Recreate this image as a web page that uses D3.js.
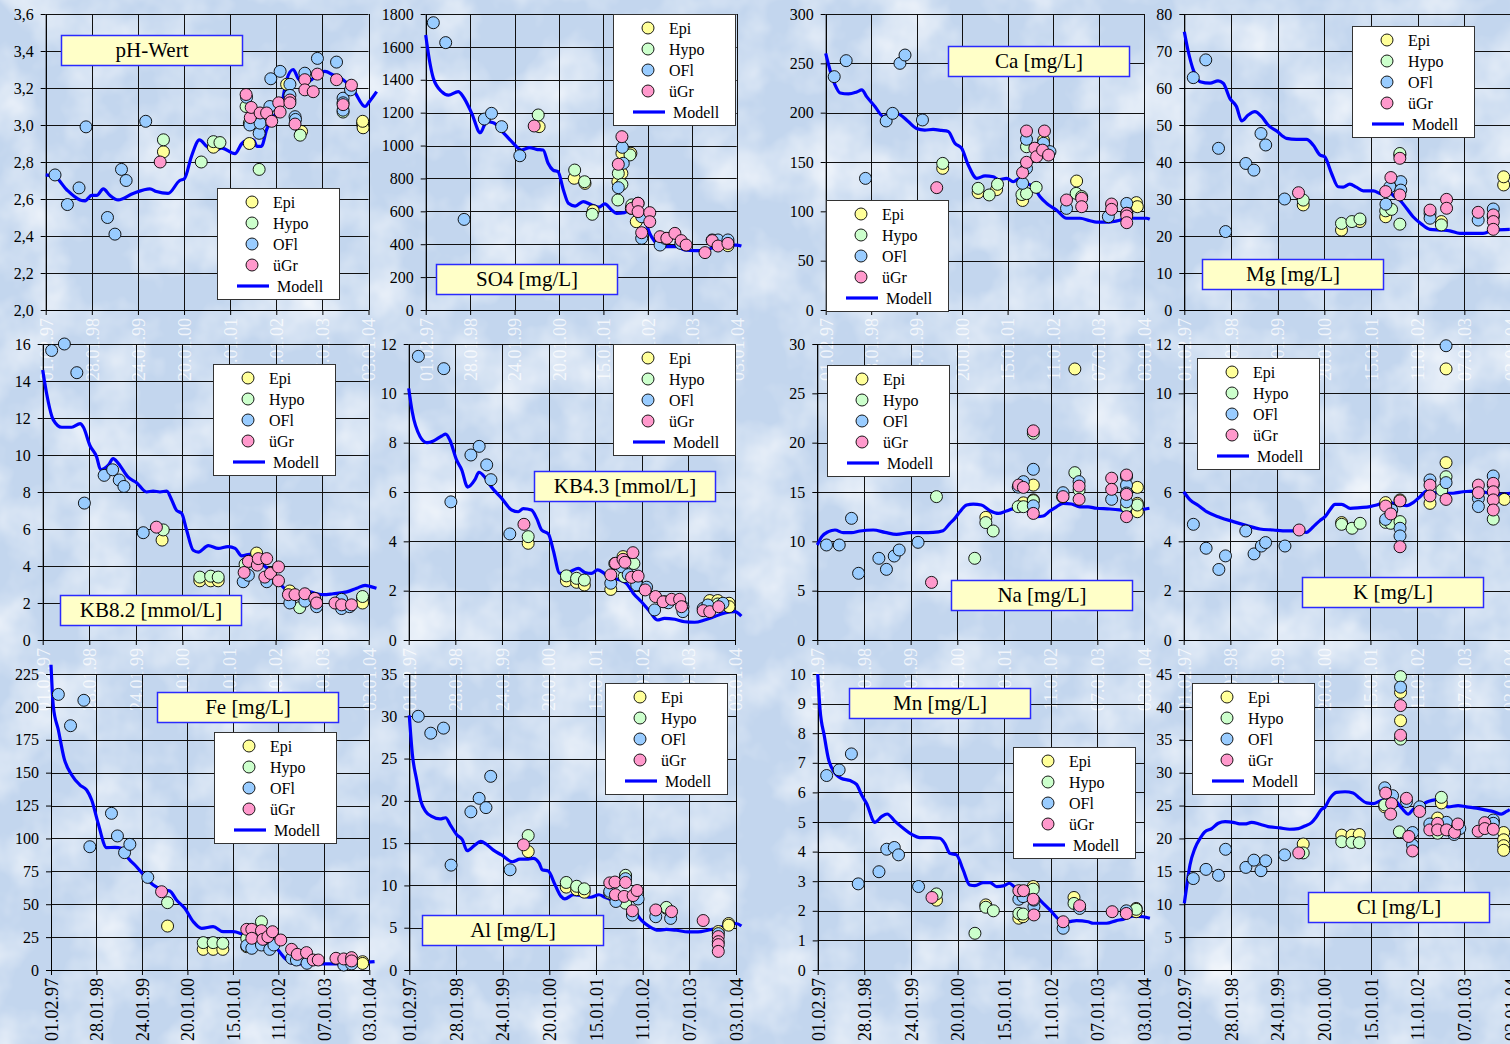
<!DOCTYPE html>
<html><head><meta charset="utf-8">
<script src="https://cdn.jsdelivr.net/npm/d3@7"></script>
<style>
html,body{margin:0;padding:0;background:#c5d8ef;overflow:hidden}
svg{display:block}
text{font-family:"Liberation Serif","Times New Roman",serif}
</style></head><body>
<svg id="chart" width="1510" height="1044"></svg>
<script>
// ---------- DATA (x = decimal year, y = value) ----------
const seriesNames = ["Epi","Hypo","OFl","üGr"];
const modelName = "Modell";
const xTickStart = "1997-02-01";   // 01.02.97, ticks every 361 days
const xTickCount = 8;
const xTickStepDays = 361;

const phModel = [[1997.085,2.73],[1997.285,2.72],[1997.535,2.65],[1997.82,2.595],[1997.93,2.59],[1998.07,2.62],[1998.18,2.62],[1998.32,2.655],[1998.46,2.62],[1998.64,2.595],[1998.96,2.63],[1999.32,2.655],[1999.46,2.64],[1999.71,2.63],[1999.96,2.70],[2000.06,2.71],[2000.21,2.83],[2000.38,2.92],[2000.535,2.885],[2000.68,2.86],[2000.86,2.875],[2001.14,2.845],[2001.29,2.90],[2001.43,2.92],[2001.54,2.92],[2001.61,2.885],[2001.71,2.885],[2001.82,2.975],[2001.96,3.045],[2002.11,3.08],[2002.25,3.245],[2002.39,3.30],[2002.5,3.25],[2002.57,3.235],[2002.75,3.24],[2002.89,3.27],[2003.07,3.29],[2003.25,3.27],[2003.46,3.245],[2003.68,3.19],[2003.93,3.10],[2004.02,3.125],[2004.18,3.18]];
const phEpi = [[1999.61,2.855],[2000.68,2.88],[2001.45,2.90],[2002.25,3.22],[2002.57,2.965],[2003.88,3.005],[2003.89,2.985],[2003.88,3.02]];
const phHypo = [[1999.61,2.92],[2000.42,2.80],[2000.68,2.91],[2000.82,2.905],[2001.38,3.10],[2001.45,3.01],[2001.66,2.76],[2002.54,2.945],[2003.46,3.07]];
const phOFl = [[1997.285,2.73],[1997.55,2.57],[1997.80,2.66],[1997.95,2.99],[1998.41,2.50],[1998.57,2.41],[1998.71,2.76],[1998.81,2.70],[1999.23,3.02],[2001.39,3.15],[2001.46,3.0],[2001.66,2.955],[2001.68,3.01],[2001.89,3.10],[2001.91,3.25],[2002.11,3.29],[2002.32,3.22],[2002.32,3.16],[2002.43,3.045],[2002.44,3.03],[2002.64,3.28],[2002.91,3.36],[2003.32,3.34],[2003.46,3.145],[2003.46,3.12],[2003.46,3.08],[2003.62,3.19]];
const phUGr = [[1999.54,2.80],[2001.38,3.165],[2001.47,3.04],[2001.49,3.095],[2001.68,3.065],[2001.82,3.065],[2001.93,3.02],[2002.08,3.12],[2002.11,3.07],[2002.32,3.135],[2002.32,3.12],[2002.43,3.005],[2002.64,3.245],[2002.64,3.19],[2002.82,3.18],[2002.91,3.275],[2003.32,3.245],[2003.46,3.11],[2003.64,3.215]];

const so4Model = [[1997.085,1672],[1997.18,1500],[1997.255,1409],[1997.44,1328],[1997.59,1307],[1997.81,1328],[1997.92,1297],[1998.11,1196],[1998.30,1078],[1998.44,1145],[1998.59,1139],[1998.775,1090],[1999.0,1024],[1999.22,973],[1999.40,987],[1999.55,977],[1999.70,973],[1999.81,892],[1999.92,851],[2000.03,841],[2000.15,730],[2000.26,649],[2000.41,632],[2000.59,659],[2000.78,639],[2000.94,626],[2001.07,645],[2001.22,608],[2001.33,588],[2001.51,592],[2001.74,632],[2001.85,588],[2001.96,547],[2002.07,466],[2002.18,416],[2002.32,385],[2002.48,385],[2002.67,385],[2002.85,365],[2003.07,361],[2003.30,361],[2003.44,375],[2003.59,385],[2003.815,395],[2004.0,395],[2004.11,389]];
const so4Epi = [[1999.61,1115],[2000.39,801],[2000.63,770],[2000.81,604],[2001.36,780],[2001.45,831],[2001.45,953],[2001.65,953],[2001.66,618],[2001.77,537],[2003.81,411],[2003.81,391]];
const so4Hypo = [[1999.59,1186],[2000.40,851],[2000.62,780],[2000.79,582],[2001.36,669],[2001.37,831],[2001.45,764],[2001.63,943],[2001.67,639]];
const so4OFl = [[1997.255,1747],[1997.53,1626],[1997.94,551],[1998.39,1161],[1998.55,1196],[1998.775,1115],[1999.18,938],[2001.37,744],[2001.46,989],[2001.48,892],[2001.81,649],[2001.89,567],[2001.89,436],[2002.30,395],[2002.41,436],[2002.76,405],[2003.46,426],[2003.59,426],[2003.81,426]];
const so4UGr = [[1999.50,1119],[2001.37,886],[2001.45,1054],[2001.67,618],[2001.81,649],[2001.81,598],[2002.07,592],[2002.07,537],[2001.89,470],[2002.30,446],[2002.45,436],[2002.63,466],[2002.77,422],[2002.88,395],[2003.3,349],[2003.46,422],[2003.59,389],[2003.81,405]];

const caModel = [[1997.085,260],[1997.18,243],[1997.29,228],[1997.40,220],[1997.58,219],[1997.76,221],[1997.87,223],[1997.98,216],[1998.16,206],[1998.34,196],[1998.52,200],[1998.70,198],[1998.88,191],[1999.06,184],[1999.24,182.4],[1999.42,183],[1999.605,182],[1999.75,181],[1999.895,169],[2000.04,164],[2000.185,147],[2000.37,133.4],[2000.55,136],[2000.73,135],[2000.84,132],[2001.02,133.4],[2001.16,130],[2001.31,133.4],[2001.45,128.4],[2001.60,125],[2001.74,115],[2001.89,108],[2002.10,101.4],[2002.32,93],[2002.61,93],[2002.83,90.5],[2002.97,89],[2003.19,89],[2003.48,91],[2003.63,93],[2003.84,93],[2004.06,93],[2004.13,92]];
const caEpi = [[1999.63,143.6],[2000.40,119],[2000.80,122],[2001.365,111],[2001.82,172],[2002.54,130.7],[2003.84,108.8],[2003.86,104.7]];
const caHypo = [[1999.63,148.6],[2000.40,123.3],[2000.64,116.6],[2000.82,127.4],[2001.35,117],[2001.45,165.5],[2001.45,118],[2001.66,124.3],[2002.53,118.2],[2002.65,115]];
const caOFl = [[1997.27,236.5],[1997.53,252.7],[1997.95,133.4],[1998.40,191.6],[1998.54,199.3],[1998.70,250],[1998.81,258.4],[1999.19,192.6],[2001.365,128.4],[2001.45,143.6],[2001.45,173],[2001.82,169],[2001.96,160.5],[2002.32,103],[2003.23,94.6],[2003.63,108],[2003.63,98]];
const caUGr = [[1999.50,124],[2001.365,139.2],[2001.45,181.4],[2001.45,149.7],[2001.63,164],[2001.67,155.4],[2001.84,181.4],[2001.80,162],[2001.93,157],[2002.32,111.5],[2002.65,113.2],[2002.65,104.7],[2003.30,107.4],[2003.30,102],[2003.63,98],[2003.63,95.3],[2003.63,88.5]];

const mgModel = [[1997.085,75.2],[1997.17,69.8],[1997.275,64.9],[1997.42,61.7],[1997.63,61.3],[1997.80,61.9],[1997.91,61.3],[1998.05,57.2],[1998.19,55],[1998.30,51.1],[1998.44,52.7],[1998.58,53.6],[1998.72,52.3],[1998.86,50],[1999.04,48.4],[1999.25,46.4],[1999.46,46.1],[1999.675,46.1],[1999.815,44.6],[1999.96,41.9],[2000.06,41.4],[2000.205,36.9],[2000.345,33.3],[2000.45,33.2],[2000.59,34],[2000.73,33.2],[2000.875,32.2],[2001.09,32.2],[2001.26,31.4],[2001.40,32],[2001.545,30.6],[2001.65,29.7],[2001.79,27.5],[2001.93,25.2],[2002.11,23.2],[2002.29,21.8],[2002.50,21.6],[2002.71,21.4],[2002.92,20.7],[2003.20,20.7],[2003.415,20.7],[2003.63,21.6],[2003.98,21.8]];
const mgEpi = [[1999.605,28.4],[2000.415,21.6],[2000.805,23.9],[2001.35,25.2],[2001.65,41.9],[2002.53,23.9],[2003.85,33.8],[2003.85,36]];
const mgHypo = [[1999.605,29.7],[2000.415,23.4],[2000.635,23.9],[2000.805,24.6],[2001.35,26.8],[2001.475,27.2],[2001.65,23.2],[2001.65,42.3],[2002.53,23]];
const mgOFl = [[1997.275,62.8],[1997.54,67.6],[1997.81,43.7],[1997.96,21.2],[1998.39,39.6],[1998.56,37.8],[1998.71,47.7],[1998.81,44.6],[1999.21,30],[2001.355,28.6],[2001.44,33.3],[2001.67,34.7],[2001.67,32.4],[2002.29,26.1],[2002.29,24.8],[2003.31,24.3],[2003.63,27.3],[2003.63,25.2]];
const mgUGr = [[1999.505,31.7],[2001.35,32],[2001.46,35.8],[2001.65,41],[2001.65,31.1],[2002.29,27],[2002.64,29.9],[2002.64,27.5],[2003.31,26.4],[2003.63,25.7],[2003.63,23.9],[2003.63,21.8]];

const kb82Model = [[1997.085,14.6],[1997.17,13.3],[1997.31,11.9],[1997.49,11.5],[1997.70,11.5],[1997.88,11.7],[1997.95,11.5],[1998.09,10.5],[1998.23,9.9],[1998.315,9.2],[1998.48,9.45],[1998.58,9.8],[1998.69,9.55],[1998.90,8.8],[1999.08,8.5],[1999.29,8.0],[1999.43,8.05],[1999.575,8.0],[1999.72,8.05],[1999.82,7.6],[1999.93,7.0],[2000.035,6.85],[2000.14,5.95],[2000.28,4.85],[2000.39,4.75],[2000.60,5.1],[2000.81,4.95],[2001.02,5.05],[2001.17,4.95],[2001.31,4.55],[2001.52,4.65],[2001.77,4.05],[2001.945,3.65],[2002.12,3.05],[2002.26,2.7],[2002.54,2.5],[2002.76,2.6],[2002.90,2.5],[2003.04,2.45],[2003.25,2.5],[2003.54,2.6],[2003.75,2.8],[2003.93,2.95],[2004.03,2.9],[2004.17,2.8]];
const kb82Epi = [[1999.62,5.4],[2000.42,3.2],[2000.65,3.2],[2000.81,3.2],[2001.625,4.7],[2002.33,2.65],[2003.875,2.25],[2003.875,2.0]];
const kb82Hypo = [[1999.645,5.95],[2000.42,3.4],[2000.65,3.45],[2000.81,3.4],[2001.38,4.1],[2001.66,4.3],[2002.54,1.75],[2003.875,2.35]];
const kb82OFl = [[1997.275,15.65],[1997.545,16.0],[1997.81,14.45],[1997.97,7.4],[1998.39,8.9],[1998.57,9.2],[1998.71,8.65],[1998.81,8.3],[1999.22,5.8],[2001.34,3.15],[2001.45,3.5],[2001.84,3.15],[2002.33,2.0],[2002.65,2.1],[2002.90,1.8],[2003.43,1.7],[2003.43,2.2],[2003.60,1.8]];
const kb82UGr = [[1999.50,6.1],[2001.36,3.65],[2001.45,4.25],[2001.64,4.05],[2001.66,4.4],[2001.84,4.4],[2001.8,3.4],[2001.92,3.6],[2002.09,3.95],[2002.09,3.2],[2002.30,2.45],[2002.44,2.45],[2002.65,2.5],[2002.86,2.25],[2002.90,2.0],[2003.29,2.0],[2003.43,1.9],[2003.64,1.9]];

const kb43Model = [[1997.085,10.2],[1997.16,9.25],[1997.325,8.25],[1997.47,8.0],[1997.61,8.07],[1997.785,8.27],[1997.87,8.35],[1997.96,8.1],[1998.10,7.3],[1998.21,6.9],[1998.335,6.2],[1998.49,6.5],[1998.575,6.8],[1998.70,6.6],[1998.84,6.2],[1999.055,5.75],[1999.27,5.27],[1999.41,5.2],[1999.515,5.33],[1999.69,5.27],[1999.80,4.93],[1999.905,4.46],[2000.05,4.3],[2000.15,3.65],[2000.29,2.7],[2000.40,2.7],[2000.54,2.8],[2000.68,2.9],[2000.82,2.74],[2000.96,2.7],[2001.09,2.84],[2001.21,2.73],[2001.35,2.5],[2001.53,2.46],[2001.70,2.3],[2001.845,1.9],[2002.02,1.55],[2002.20,1.15],[2002.36,0.81],[2002.51,0.88],[2002.73,0.84],[2002.94,0.74],[2003.15,0.72],[2003.36,0.81],[2003.575,0.95],[2003.79,1.1],[2004.0,1.15],[2004.14,0.97]];
const kb43Epi = [[1999.62,3.92],[2000.43,2.4],[2000.645,2.34],[2000.81,2.23],[2001.37,2.05],[2001.63,3.38],[2003.47,1.6],[2003.64,1.6],[2003.88,1.49],[2003.88,1.35]];
const kb43Hypo = [[1999.62,4.19],[2000.43,2.6],[2000.645,2.5],[2000.81,2.43],[2001.455,3.1],[2001.655,2.57],[2001.86,3.1],[2002.52,1.55],[2003.64,1.46]];
const kb43OFl = [[1997.29,11.5],[1997.83,11.0],[1997.98,5.6],[1998.405,7.5],[1998.58,7.85],[1998.74,7.1],[1998.83,6.5],[1999.23,4.3],[2001.37,2.3],[2001.60,2.97],[2001.74,2.65],[2001.92,2.23],[2002.13,2.14],[2002.30,1.22],[2002.59,1.51],[2002.90,1.35],[2002.90,1.15],[2003.33,1.28],[2003.43,1.42],[2003.75,1.49]];
const kb43UGr = [[1999.53,4.69],[2001.37,2.64],[2001.47,3.11],[2001.63,3.27],[2001.67,3.15],[2001.84,3.54],[2001.81,2.54],[2001.95,2.59],[2002.10,2.03],[2002.32,1.76],[2002.48,1.55],[2002.66,1.65],[2002.83,1.65],[2002.87,1.35],[2003.33,1.19],[2003.47,1.15],[2003.66,1.35]];

const naModel = [[1997.085,9.63],[1997.18,10.47],[1997.32,10.98],[1997.46,11.15],[1997.635,10.88],[1997.81,10.88],[1997.99,11.05],[1998.27,11.15],[1998.52,10.91],[1998.765,10.71],[1999.05,10.88],[1999.33,10.88],[1999.54,10.91],[1999.75,11.08],[1999.89,11.8],[2000.0,12.33],[2000.105,13.0],[2000.25,13.68],[2000.39,13.78],[2000.56,13.68],[2000.74,13.1],[2000.92,12.83],[2001.09,13.07],[2001.235,13.28],[2001.45,13.18],[2001.62,13.0],[2001.73,12.5],[2001.87,12.57],[2002.01,13.07],[2002.15,13.5],[2002.29,13.85],[2002.47,13.78],[2002.645,13.5],[2002.82,13.5],[2003.0,13.35],[2003.28,13.28],[2003.49,13.18],[2003.70,13.0],[2003.92,13.18],[2004.12,13.35]];
const naEpi = [[2000.655,12.43],[2001.45,13.9],[2001.66,15.7],[2001.66,14.2],[2002.54,27.47],[2003.865,15.47],[2003.865,13.85],[2003.865,13.0]];
const naHypo = [[1999.61,14.53],[2000.42,8.28],[2000.655,11.9],[2000.81,11.05],[2001.34,13.51],[2001.45,13.51],[2001.66,20.95],[2001.66,14.12],[2002.28,14.5],[2002.54,16.96],[2002.63,15.2],[2003.635,13.5],[2003.865,13.68]];
const naOFl = [[1997.28,9.63],[1997.55,9.63],[1997.81,12.33],[1997.96,6.76],[1998.39,8.28],[1998.55,7.16],[1998.715,8.51],[1998.82,9.12],[1999.22,9.9],[2001.34,15.5],[2001.45,16.05],[2001.66,17.3],[2001.66,13.6],[2002.29,14.93],[2002.63,16.05],[2003.32,14.26],[2003.635,16.55],[2003.635,15.7],[2003.635,14.9],[2003.635,14.0]];
const naUGr = [[1999.505,5.84],[2001.35,15.7],[2001.45,15.47],[2001.66,21.2],[2001.66,12.83],[2002.29,14.53],[2002.63,15.6],[2002.63,14.26],[2003.32,16.4],[2003.32,15.27],[2003.635,16.72],[2003.635,14.76],[2003.635,12.5]];

const kModel = [[1997.085,6.01],[1997.22,5.68],[1997.395,5.45],[1997.57,5.2],[1997.855,4.97],[1998.136,4.8],[1998.42,4.64],[1998.70,4.5],[1998.98,4.46],[1999.265,4.42],[1999.51,4.42],[1999.69,4.36],[1999.76,4.46],[1999.865,4.66],[1999.97,4.84],[2000.08,5.0],[2000.18,5.27],[2000.29,5.5],[2000.43,5.5],[2000.61,5.34],[2000.82,5.37],[2001.03,5.41],[2001.17,5.47],[2001.38,5.61],[2001.52,5.54],[2001.81,5.45],[2001.95,5.58],[2002.09,5.81],[2002.23,6.04],[2002.37,5.98],[2002.58,5.95],[2002.79,5.95],[2003.0,6.01],[2003.29,6.04],[2003.57,5.95],[2003.78,5.9],[2003.995,5.95]];
const kEpi = [[2000.43,4.76],[2001.36,5.57],[2001.665,5.68],[2002.30,5.54],[2002.64,10.99],[2002.64,7.19],[2003.875,5.7]];
const kHypo = [[2000.43,4.69],[2000.65,4.53],[2000.82,4.73],[2001.36,4.77],[2001.47,4.73],[2001.665,4.8],[2002.55,6.08],[2002.64,6.62],[2003.64,4.9]];
const kOFl = [[1997.29,4.69],[1997.56,3.72],[1997.83,2.86],[1997.97,3.41],[1998.40,4.42],[1998.575,3.49],[1998.73,3.81],[1998.82,3.95],[1999.23,3.81],[2001.36,4.89],[2001.49,5.27],[2001.665,4.53],[2001.665,4.22],[2002.30,6.49],[2002.64,11.93],[2002.64,6.38],[2003.325,5.74],[2003.325,5.41],[2003.64,6.65],[2003.64,6.28]];
const kUGr = [[1999.53,4.46],[2001.36,5.43],[2001.47,5.11],[2001.665,5.64],[2001.665,3.78],[2002.30,6.28],[2002.30,5.84],[2002.64,5.7],[2003.325,6.28],[2003.325,5.97],[2003.64,6.35],[2003.64,6.01],[2003.64,5.68],[2003.64,5.27]];

const feModel = [[1997.085,232],[1997.136,200.2],[1997.245,182.4],[1997.37,160.9],[1997.535,148.2],[1997.715,140.6],[1997.86,136.8],[1997.97,129.2],[1998.11,111.5],[1998.295,93],[1998.475,93.2],[1998.62,92.5],[1998.765,85],[1998.945,78.5],[1999.13,71],[1999.31,64.6],[1999.49,61.3],[1999.67,60.1],[1999.815,53.2],[1999.995,46.9],[2000.18,36.7],[2000.36,31.7],[2000.61,33],[2000.83,29.1],[2001.05,29.1],[2001.19,27.9],[2001.34,25.3],[2001.63,24.1],[2001.84,20.3],[2002.02,15.2],[2002.17,8.9],[2002.35,5.1],[2002.64,4.6],[2002.93,4.6],[2003.22,4.6],[2003.58,5.1],[2003.87,5.6],[2004.12,6.3]];
const feEpi = [[1999.62,33.4],[2000.395,15.7],[2000.61,15.7],[2000.82,15.7],[2001.34,17.7],[2003.86,6.3],[2003.86,5]];
const feHypo = [[1999.62,51.2],[2000.395,20.8],[2000.61,20.8],[2000.82,20.3],[2001.34,24.1],[2001.66,36.7]];
const feOFl = [[1997.245,209.5],[1997.51,185.7],[1997.80,205],[1997.93,93.7],[1998.40,119.1],[1998.53,101.9],[1998.685,89.2],[1998.80,95.5],[1999.19,70.4],[2001.34,18.5],[2001.45,16.5],[2001.66,19],[2001.84,15.7],[2001.93,19],[2002.315,8.9],[2002.42,7.6],[2002.65,5.1],[2003.45,3.8],[2003.62,4.6]];
const feUGr = [[1999.49,59.5],[2001.34,30.9],[2001.45,30.9],[2001.45,24.1],[2001.66,29.9],[2001.69,23.3],[2001.80,25.3],[2001.90,29.1],[2002.08,22.8],[2002.315,15.7],[2002.44,11.9],[2002.64,13.2],[2002.785,7.6],[2002.895,7.6],[2003.28,8.9],[2003.45,8.4],[2003.62,9.4],[2003.62,6.9]];

const alModel = [[1997.085,30.1],[1997.15,25.5],[1997.24,22.5],[1997.33,19.95],[1997.43,18.76],[1997.56,18.17],[1997.735,17.86],[1997.855,18.0],[1997.95,17.2],[1998.09,16.0],[1998.21,15.4],[1998.31,14.1],[1998.46,14.7],[1998.60,15.2],[1998.71,14.9],[1998.86,14.2],[1999.04,13.6],[1999.27,12.8],[1999.43,13.1],[1999.605,13.1],[1999.71,13.2],[1999.84,12.6],[1999.90,11.85],[2000.03,11.7],[2000.17,10.1],[2000.30,8.7],[2000.38,8.4],[2000.56,8.9],[2000.73,8.8],[2000.93,8.6],[2001.1,8.9],[2001.23,8.6],[2001.405,8.2],[2001.615,7.9],[2001.86,6.9],[2002.0,5.9],[2002.18,5.1],[2002.36,4.7],[2002.53,4.8],[2002.74,4.7],[2002.99,4.5],[2003.20,4.5],[2003.41,4.7],[2003.63,5.0],[2003.84,5.3],[2004.01,5.5],[2004.12,5.2]];
const alEpi = [[1999.605,14.0],[2000.41,9.8],[2000.63,9.5],[2000.79,9.2],[2001.665,11.1],[2002.53,7.3],[2003.63,4.55],[2003.85,5.5],[2003.85,5.3]];
const alHypo = [[1999.605,15.9],[2000.41,10.35],[2000.63,9.9],[2000.79,9.6],[2001.33,9.1],[2001.665,11.2],[2001.665,7.9],[2002.53,7.4]];
const alOFl = [[1997.275,30.0],[1997.54,28.0],[1997.81,28.6],[1997.97,12.4],[1998.39,18.7],[1998.565,20.3],[1998.71,19.2],[1998.81,22.9],[1999.22,11.85],[2001.33,9.3],[2001.46,8.1],[2001.665,10.8],[2001.81,6.5],[2001.93,8.4],[2002.305,6.3],[2002.62,6.1],[2003.63,4.3]];
const alUGr = [[1999.505,14.8],[2001.33,10.3],[2001.44,10.4],[2001.45,8.9],[2001.665,10.35],[2001.635,8.7],[2001.81,7.0],[2001.825,8.8],[2001.91,9.4],[2002.305,7.1],[2002.64,6.9],[2003.31,5.85],[2003.63,3.95],[2003.63,3.35],[2003.63,3.0],[2003.63,2.2]];

const mnModel = [[1997.085,10.0],[1997.135,8.8],[1997.226,7.9],[1997.31,7.15],[1997.43,6.7],[1997.59,6.47],[1997.77,6.4],[1997.91,6.27],[1998.02,5.9],[1998.12,5.63],[1998.30,4.99],[1998.44,5.18],[1998.56,5.27],[1998.72,5.03],[1998.90,4.79],[1999.08,4.58],[1999.25,4.47],[1999.465,4.47],[1999.675,4.45],[1999.78,4.28],[1999.89,3.94],[2000.03,3.89],[2000.17,3.38],[2000.31,2.87],[2000.42,2.85],[2000.595,2.95],[2000.74,2.95],[2000.88,2.82],[2001.02,2.84],[2001.15,2.93],[2001.27,2.79],[2001.44,2.73],[2001.655,2.59],[2001.83,2.31],[2002.01,2.03],[2002.22,1.69],[2002.40,1.63],[2002.57,1.67],[2002.82,1.63],[2002.93,1.58],[2003.21,1.58],[2003.42,1.67],[2003.56,1.71],[2003.77,1.82],[2003.985,1.8],[2004.13,1.75]];
const mnEpi = [[1999.605,2.36],[2000.65,2.2],[2001.35,1.75],[2001.44,1.8],[2001.655,2.82],[2002.52,2.45],[2003.84,2.08],[2003.84,1.97]];
const mnHypo = [[1999.605,2.57],[2000.42,1.24],[2000.65,2.12],[2000.81,2.0],[2001.35,1.91],[2001.44,1.89],[2001.655,2.73],[2002.52,2.25],[2003.84,2.05]];
const mnOFl = [[1997.275,6.57],[1997.54,6.76],[1997.80,7.3],[1997.945,2.91],[1998.385,3.32],[1998.55,4.08],[1998.71,4.14],[1998.80,3.89],[1999.225,2.82],[2001.35,2.39],[2001.44,2.48],[2001.67,2.14],[2001.67,2.36],[2002.29,1.41],[2002.64,2.08],[2003.63,2.0]];
const mnUGr = [[1999.51,2.45],[2001.35,2.68],[2001.45,2.68],[2001.655,2.39],[2001.67,1.86],[2002.29,1.63],[2002.64,2.17],[2003.33,1.97],[2003.63,1.91]];

const clModel = [[1997.085,10.13],[1997.135,12.67],[1997.205,15.96],[1997.31,18.5],[1997.42,20.0],[1997.52,21.0],[1997.665,21.5],[1997.805,22.3],[1997.95,22.55],[1998.12,22.45],[1998.26,22.2],[1998.37,22.2],[1998.51,22.45],[1998.69,22.15],[1998.86,21.8],[1999.11,21.6],[1999.32,21.4],[1999.50,21.5],[1999.64,21.9],[1999.78,22.4],[1999.885,23.3],[1999.99,24.4],[2000.06,24.7],[2000.17,26.1],[2000.31,27.0],[2000.49,27.1],[2000.66,26.9],[2000.80,26.1],[2000.945,25.4],[2001.09,25.3],[2001.23,25.7],[2001.37,25.95],[2001.51,25.95],[2001.69,24.6],[2001.83,23.7],[2001.93,24.4],[2002.07,24.9],[2002.25,25.6],[2002.39,25.85],[2002.53,25.6],[2002.67,24.8],[2002.885,25.0],[2003.06,24.8],[2003.275,24.6],[2003.485,24.3],[2003.63,24.1],[2003.80,23.7],[2003.91,24.1],[2003.98,24.4]];
const clEpi = [[1999.605,19.15],[2000.42,20.5],[2000.635,20.5],[2000.79,20.6],[2001.33,24.8],[2001.665,42.2],[2001.665,37.9],[2002.45,23.1],[2002.53,25.4],[2003.85,20.9],[2003.85,19.8],[2003.85,18.9],[2003.85,18.2]];
const clHypo = [[1999.605,17.8],[2000.42,19.5],[2000.635,19.4],[2000.79,19.35],[2001.33,25.1],[2001.64,21.0],[2001.665,44.6],[2001.665,35.1],[2002.45,20.8],[2002.53,26.25],[2003.63,22.55]];
const clOFl = [[1997.275,13.9],[1997.545,15.3],[1997.81,14.4],[1997.96,18.35],[1998.39,15.6],[1998.56,16.7],[1998.71,15.1],[1998.81,16.6],[1999.21,17.5],[2001.33,27.7],[2001.495,26.5],[2001.665,43.0],[2001.79,25.6],[2001.92,20.9],[2001.92,19.0],[2002.07,24.8],[2002.285,22.2],[2002.64,22.45],[2002.80,20.6],[2002.92,21.5],[2003.63,22.8],[2003.63,22.3]];
const clUGr = [[1999.51,17.8],[2001.35,26.9],[2001.475,25.3],[2001.455,23.7],[2001.665,40.2],[2001.665,35.7],[2001.79,26.1],[2001.84,20.3],[2001.92,18.1],[2002.07,24.1],[2002.285,21.3],[2002.45,22.3],[2002.45,21.3],[2002.64,21.3],[2002.81,20.9],[2002.88,22.2],[2003.31,21.1],[2003.45,22.4],[2003.45,21.5],[2003.63,21.4]];

// ---------- LAYOUT / STYLE ----------
const W = 1510, H = 1044;
const seriesColors = ["#ffff99","#ccffcc","#99ccff","#ff99cc"];
const modelColor = "#0000ff";

const panels = [
 {title:"pH-Wert", model:phModel, pts:[phEpi,phHypo,phOFl,phUGr], y:[2,3.6,0.2], dec:1, r:[45.7,14,368.5,310], tb:[61,35], lg:[217,188], lab:"w"},
 {title:"SO4 [mg/L]", model:so4Model, pts:[so4Epi,so4Hypo,so4OFl,so4UGr], y:[0,1800,200], dec:0, r:[425.7,14,736.7,310], tb:[436,264], lg:[613,14], lab:"w"},
 {title:"Ca [mg/L]", model:caModel, pts:[caEpi,caHypo,caOFl,caUGr], y:[0,300,50], dec:0, r:[825.7,14,1144,310], tb:[948,46], lg:[826,200], lab:"w"},
 {title:"Mg [mg/L]", model:mgModel, pts:[mgEpi,mgHypo,mgOFl,mgUGr], y:[0,80,10], dec:0, r:[1184.3,14,1511,310], tb:[1202,259], lg:[1352,26], lab:"w"},
 {title:"KB8.2 [mmol/L]", model:kb82Model, pts:[kb82Epi,kb82Hypo,kb82OFl,kb82UGr], y:[0,16,2], dec:0, r:[42.7,344,368.7,640], tb:[60,595], lg:[213,364], lab:"w"},
 {title:"KB4.3 [mmol/L]", model:kb43Model, pts:[kb43Epi,kb43Hypo,kb43OFl,kb43UGr], y:[0,12,2], dec:0, r:[408.7,344,735,640], tb:[534,471], lg:[613,344], lab:"w"},
 {title:"Na [mg/L]", model:naModel, pts:[naEpi,naHypo,naOFl,naUGr], y:[0,30,5], dec:0, r:[817.3,344,1144,640], tb:[951,580], lg:[827,365], lab:"w"},
 {title:"K [mg/L]", model:kModel, pts:[kEpi,kHypo,kOFl,kUGr], y:[0,12,2], dec:0, r:[1183.7,344,1510.5,640], tb:[1302,577], lg:[1197,358], lab:"w"},
 {title:"Fe [mg/L]", model:feModel, pts:[feEpi,feHypo,feOFl,feUGr], y:[0,225,25], dec:0, r:[51,674,369.3,970], tb:[157,692], lg:[214,732], lab:"b"},
 {title:"Al [mg/L]", model:alModel, pts:[alEpi,alHypo,alOFl,alUGr], y:[0,35,5], dec:0, r:[409.3,674,736,970], tb:[422,915], lg:[605,683], lab:"b"},
 {title:"Mn [mg/L]", model:mnModel, pts:[mnEpi,mnHypo,mnOFl,mnUGr], y:[0,10,1], dec:0, r:[817.7,674,1144,970], tb:[849,688], lg:[1013,747], lab:"b"},
 {title:"Cl [mg/L]", model:clModel, pts:[clEpi,clHypo,clOFl,clUGr], y:[0,45,5], dec:0, r:[1184.3,674,1511,970], tb:[1308,892], lg:[1192,683], lab:"b"}
];

// ---------- HELPERS ----------
function yd(v){ const y=Math.floor(v); const s=Date.UTC(y,0,1), e=Date.UTC(y+1,0,1); return new Date(s+(v-y)*(e-s)); }
const x0 = d3.utcParse("%Y-%m-%d")(xTickStart);
const xTicks = d3.range(xTickCount).map(k => d3.utcDay.offset(x0, xTickStepDays*k));
const fmtDate = d3.utcFormat("%d.%m.%y");

const svg = d3.select("#chart");
const defs = svg.append("defs");
const f = defs.append("filter").attr("id","tex").attr("x",0).attr("y",0).attr("width","100%").attr("height","100%");
f.append("feTurbulence").attr("type","fractalNoise").attr("baseFrequency","0.015").attr("numOctaves",4).attr("seed",7);
f.append("feColorMatrix").attr("type","matrix").attr("values","0 0 0 0 1  0 0 0 0 1  0 0 0 0 1  0 0 0 1.4 -0.55");
svg.append("rect").attr("width",W).attr("height",H).attr("fill","#c3d6ee");
svg.append("rect").attr("width",W).attr("height",H).attr("fill","#fff").attr("filter","url(#tex)");

// scales per panel
panels.forEach(p => {
  p.x = d3.scaleUtc().domain([xTicks[0], xTicks[xTicks.length-1]]).range([p.r[0], p.r[2]]);
  p.yS = d3.scaleLinear().domain([p.y[0], p.y[1]]).range([p.r[3], p.r[1]]);
  p.yTicks = d3.range(0, Math.round((p.y[1]-p.y[0])/p.y[2])+1).map(i => +(p.y[0]+i*p.y[2]).toFixed(4));
});

// x tick labels (drawn first, they run under neighbouring panels)
panels.forEach(p => {
  const g = svg.append("g").attr("transform",`translate(0,${p.r[3]})`);
  const ax = d3.axisBottom(p.x).tickValues(xTicks).tickSize(5).tickSizeOuter(0).tickFormat(fmtDate);
  g.call(ax);
  g.select(".domain").remove();
  g.selectAll(".tick line").attr("stroke","#000");
  g.selectAll(".tick text")
    .attr("transform","rotate(-90)").attr("text-anchor","end")
    .attr("x",-8).attr("y",0).attr("dy","0.35em")
    .style("font-family",'"Liberation Serif",serif').style("font-size","18px")
    .attr("fill", p.lab==="w" ? "#ffffff" : "#000")
    .attr("fill-opacity", p.lab==="w" ? 0.75 : 1);
});

panels.forEach(p => {
  const g = svg.append("g");
  const [L,T,R,B] = p.r;
  // grid
  g.append("g").selectAll("line").data(p.yTicks).join("line")
    .attr("x1",L).attr("x2",R).attr("y1",d=>Math.round(p.yS(d))+0.5).attr("y2",d=>Math.round(p.yS(d))+0.5)
    .attr("stroke","#111").attr("stroke-width",1);
  g.append("g").selectAll("line").data(xTicks).join("line")
    .attr("x1",d=>Math.round(p.x(d))+0.5).attr("x2",d=>Math.round(p.x(d))+0.5).attr("y1",T).attr("y2",B)
    .attr("stroke","#111").attr("stroke-width",1);
  // y axis
  const fmt = p.dec ? (d => d.toFixed(p.dec).replace(".",",")) : (d => String(d));
  const ya = g.append("g").attr("transform",`translate(${L},0)`)
    .call(d3.axisLeft(p.yS).tickValues(p.yTicks).tickSize(5).tickSizeOuter(0).tickPadding(7).tickFormat(fmt));
  ya.select(".domain").attr("stroke","#000");
  ya.selectAll(".tick line").attr("stroke","#000");
  ya.selectAll(".tick text").style("font-family",'"Liberation Serif",serif').style("font-size","16px").attr("fill","#000");
  // bottom axis line
  g.append("line").attr("x1",L).attr("x2",R).attr("y1",B+0.5).attr("y2",B+0.5).attr("stroke","#000");
  // model line
  const line = d3.line().x(d=>p.x(yd(d[0]))).y(d=>p.yS(d[1])).curve(d3.curveMonotoneX);
  g.append("path").datum(p.model).attr("d",line).attr("fill","none")
    .attr("stroke",modelColor).attr("stroke-width",3.2).attr("stroke-linejoin","round");
  // points
  p.pts.forEach((arr,i) => {
    g.append("g").selectAll("circle").data(arr).join("circle")
      .attr("cx",d=>p.x(yd(d[0]))).attr("cy",d=>p.yS(d[1])).attr("r",6)
      .attr("fill",seriesColors[i]).attr("stroke","#000").attr("stroke-width",0.9);
  });
});

// title boxes and legends
panels.forEach(p => {
  const g = svg.append("g");
  const [tx,ty] = p.tb;
  g.append("rect").attr("x",tx+0.5).attr("y",ty+0.5).attr("width",181).attr("height",30)
    .attr("fill","#ffffc8").attr("stroke","#2a2aff").attr("stroke-width",1.5);
  g.append("text").attr("x",tx+91).attr("y",ty+22).attr("text-anchor","middle")
    .style("font-size","21px").attr("fill","#000").text(p.title);

  const [lx,ly] = p.lg;
  const lg = svg.append("g").attr("transform",`translate(${lx},${ly})`);
  lg.append("rect").attr("x",0.5).attr("y",0.5).attr("width",122).attr("height",111)
    .attr("fill","#fff").attr("stroke","#333").attr("stroke-width",1);
  seriesNames.forEach((n,i) => {
    lg.append("circle").attr("cx",35).attr("cy",14+21*i).attr("r",6)
      .attr("fill",seriesColors[i]).attr("stroke","#000").attr("stroke-width",0.9);
    lg.append("text").attr("x",56).attr("y",19.5+21*i).style("font-size","16px").attr("fill","#000").text(n);
  });
  lg.append("line").attr("x1",20).attr("x2",52).attr("y1",98).attr("y2",98)
    .attr("stroke",modelColor).attr("stroke-width",3.2);
  lg.append("text").attr("x",60).attr("y",103.5).style("font-size","16px").attr("fill","#000").text(modelName);
});
</script>
</body></html>
